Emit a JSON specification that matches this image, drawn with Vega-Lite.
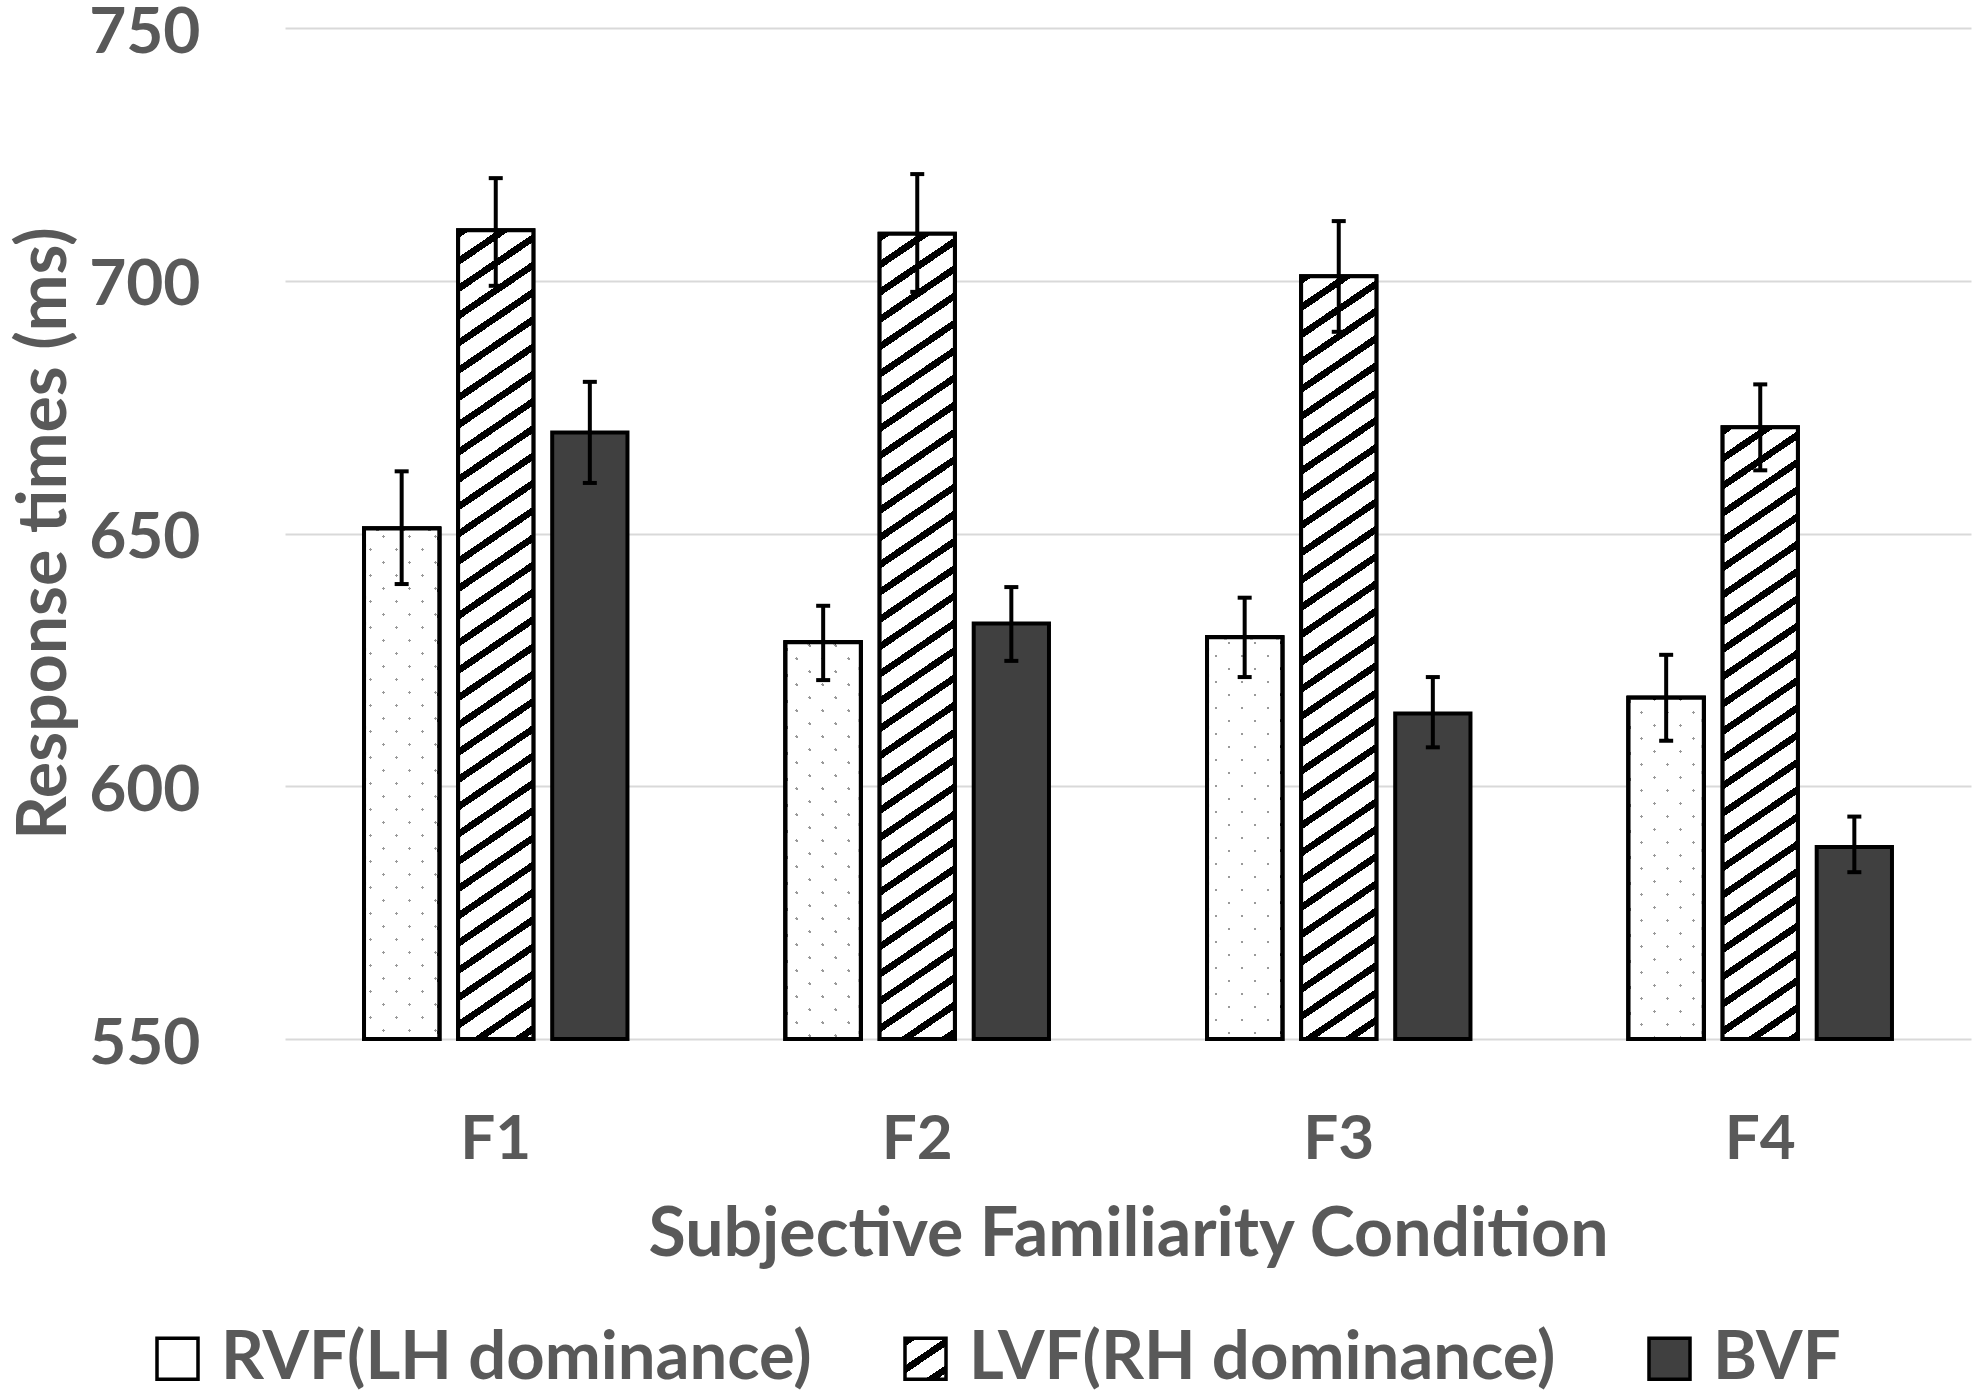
{
  "$schema": "https://vega.github.io/schema/vega-lite/v6.json",
  "width": 1686,
  "height": 1011,
  "autosize": {"type": "none"},
  "padding": {"left": 285, "top": 28, "right": 12, "bottom": 356},
  "background": "white",
  "params": [
    {
      "name": "hatch",
      "value": [
        {"offset": 0, "color": "#000"}, {"offset": 0.0091, "color": "#000"}, {"offset": 0.0091, "color": "#fff"}, {"offset": 0.0303, "color": "#fff"},
        {"offset": 0.0303, "color": "#000"}, {"offset": 0.0394, "color": "#000"}, {"offset": 0.0394, "color": "#fff"}, {"offset": 0.0606, "color": "#fff"},
        {"offset": 0.0606, "color": "#000"}, {"offset": 0.0697, "color": "#000"}, {"offset": 0.0697, "color": "#fff"}, {"offset": 0.0909, "color": "#fff"},
        {"offset": 0.0909, "color": "#000"}, {"offset": 0.1000, "color": "#000"}, {"offset": 0.1000, "color": "#fff"}, {"offset": 0.1212, "color": "#fff"},
        {"offset": 0.1212, "color": "#000"}, {"offset": 0.1303, "color": "#000"}, {"offset": 0.1303, "color": "#fff"}, {"offset": 0.1515, "color": "#fff"},
        {"offset": 0.1515, "color": "#000"}, {"offset": 0.1606, "color": "#000"}, {"offset": 0.1606, "color": "#fff"}, {"offset": 0.1818, "color": "#fff"},
        {"offset": 0.1818, "color": "#000"}, {"offset": 0.1909, "color": "#000"}, {"offset": 0.1909, "color": "#fff"}, {"offset": 0.2121, "color": "#fff"},
        {"offset": 0.2121, "color": "#000"}, {"offset": 0.2212, "color": "#000"}, {"offset": 0.2212, "color": "#fff"}, {"offset": 0.2424, "color": "#fff"},
        {"offset": 0.2424, "color": "#000"}, {"offset": 0.2515, "color": "#000"}, {"offset": 0.2515, "color": "#fff"}, {"offset": 0.2727, "color": "#fff"},
        {"offset": 0.2727, "color": "#000"}, {"offset": 0.2818, "color": "#000"}, {"offset": 0.2818, "color": "#fff"}, {"offset": 0.3030, "color": "#fff"},
        {"offset": 0.3030, "color": "#000"}, {"offset": 0.3121, "color": "#000"}, {"offset": 0.3121, "color": "#fff"}, {"offset": 0.3333, "color": "#fff"},
        {"offset": 0.3333, "color": "#000"}, {"offset": 0.3424, "color": "#000"}, {"offset": 0.3424, "color": "#fff"}, {"offset": 0.3636, "color": "#fff"},
        {"offset": 0.3636, "color": "#000"}, {"offset": 0.3727, "color": "#000"}, {"offset": 0.3727, "color": "#fff"}, {"offset": 0.3939, "color": "#fff"},
        {"offset": 0.3939, "color": "#000"}, {"offset": 0.4030, "color": "#000"}, {"offset": 0.4030, "color": "#fff"}, {"offset": 0.4242, "color": "#fff"},
        {"offset": 0.4242, "color": "#000"}, {"offset": 0.4333, "color": "#000"}, {"offset": 0.4333, "color": "#fff"}, {"offset": 0.4545, "color": "#fff"},
        {"offset": 0.4545, "color": "#000"}, {"offset": 0.4636, "color": "#000"}, {"offset": 0.4636, "color": "#fff"}, {"offset": 0.4848, "color": "#fff"},
        {"offset": 0.4848, "color": "#000"}, {"offset": 0.4939, "color": "#000"}, {"offset": 0.4939, "color": "#fff"}, {"offset": 0.5152, "color": "#fff"},
        {"offset": 0.5152, "color": "#000"}, {"offset": 0.5243, "color": "#000"}, {"offset": 0.5243, "color": "#fff"}, {"offset": 0.5455, "color": "#fff"},
        {"offset": 0.5455, "color": "#000"}, {"offset": 0.5546, "color": "#000"}, {"offset": 0.5546, "color": "#fff"}, {"offset": 0.5758, "color": "#fff"},
        {"offset": 0.5758, "color": "#000"}, {"offset": 0.5849, "color": "#000"}, {"offset": 0.5849, "color": "#fff"}, {"offset": 0.6061, "color": "#fff"},
        {"offset": 0.6061, "color": "#000"}, {"offset": 0.6152, "color": "#000"}, {"offset": 0.6152, "color": "#fff"}, {"offset": 0.6364, "color": "#fff"},
        {"offset": 0.6364, "color": "#000"}, {"offset": 0.6455, "color": "#000"}, {"offset": 0.6455, "color": "#fff"}, {"offset": 0.6667, "color": "#fff"},
        {"offset": 0.6667, "color": "#000"}, {"offset": 0.6758, "color": "#000"}, {"offset": 0.6758, "color": "#fff"}, {"offset": 0.6970, "color": "#fff"},
        {"offset": 0.6970, "color": "#000"}, {"offset": 0.7061, "color": "#000"}, {"offset": 0.7061, "color": "#fff"}, {"offset": 0.7273, "color": "#fff"},
        {"offset": 0.7273, "color": "#000"}, {"offset": 0.7364, "color": "#000"}, {"offset": 0.7364, "color": "#fff"}, {"offset": 0.7576, "color": "#fff"},
        {"offset": 0.7576, "color": "#000"}, {"offset": 0.7667, "color": "#000"}, {"offset": 0.7667, "color": "#fff"}, {"offset": 0.7879, "color": "#fff"},
        {"offset": 0.7879, "color": "#000"}, {"offset": 0.7970, "color": "#000"}, {"offset": 0.7970, "color": "#fff"}, {"offset": 0.8182, "color": "#fff"},
        {"offset": 0.8182, "color": "#000"}, {"offset": 0.8273, "color": "#000"}, {"offset": 0.8273, "color": "#fff"}, {"offset": 0.8485, "color": "#fff"},
        {"offset": 0.8485, "color": "#000"}, {"offset": 0.8576, "color": "#000"}, {"offset": 0.8576, "color": "#fff"}, {"offset": 0.8788, "color": "#fff"},
        {"offset": 0.8788, "color": "#000"}, {"offset": 0.8879, "color": "#000"}, {"offset": 0.8879, "color": "#fff"}, {"offset": 0.9091, "color": "#fff"},
        {"offset": 0.9091, "color": "#000"}, {"offset": 0.9182, "color": "#000"}, {"offset": 0.9182, "color": "#fff"}, {"offset": 0.9394, "color": "#fff"},
        {"offset": 0.9394, "color": "#000"}, {"offset": 0.9485, "color": "#000"}, {"offset": 0.9485, "color": "#fff"}, {"offset": 0.9697, "color": "#fff"},
        {"offset": 0.9697, "color": "#000"}, {"offset": 0.9788, "color": "#000"}, {"offset": 0.9788, "color": "#fff"}, {"offset": 1, "color": "#fff"}
      ]
    },
    {
      "name": "dotmask",
      "value": [
        {"offset": 0, "color": "rgba(255,255,255,0)"}, {"offset": 0.0054, "color": "rgba(255,255,255,0)"}, {"offset": 0.0054, "color": "#fff"}, {"offset": 0.0417, "color": "#fff"},
        {"offset": 0.0417, "color": "rgba(255,255,255,0)"}, {"offset": 0.0471, "color": "rgba(255,255,255,0)"}, {"offset": 0.0471, "color": "#fff"}, {"offset": 0.0833, "color": "#fff"},
        {"offset": 0.0833, "color": "rgba(255,255,255,0)"}, {"offset": 0.0887, "color": "rgba(255,255,255,0)"}, {"offset": 0.0887, "color": "#fff"}, {"offset": 0.1250, "color": "#fff"},
        {"offset": 0.1250, "color": "rgba(255,255,255,0)"}, {"offset": 0.1304, "color": "rgba(255,255,255,0)"}, {"offset": 0.1304, "color": "#fff"}, {"offset": 0.1667, "color": "#fff"},
        {"offset": 0.1667, "color": "rgba(255,255,255,0)"}, {"offset": 0.1721, "color": "rgba(255,255,255,0)"}, {"offset": 0.1721, "color": "#fff"}, {"offset": 0.2083, "color": "#fff"},
        {"offset": 0.2083, "color": "rgba(255,255,255,0)"}, {"offset": 0.2137, "color": "rgba(255,255,255,0)"}, {"offset": 0.2137, "color": "#fff"}, {"offset": 0.2500, "color": "#fff"},
        {"offset": 0.2500, "color": "rgba(255,255,255,0)"}, {"offset": 0.2554, "color": "rgba(255,255,255,0)"}, {"offset": 0.2554, "color": "#fff"}, {"offset": 0.2917, "color": "#fff"},
        {"offset": 0.2917, "color": "rgba(255,255,255,0)"}, {"offset": 0.2971, "color": "rgba(255,255,255,0)"}, {"offset": 0.2971, "color": "#fff"}, {"offset": 0.3333, "color": "#fff"},
        {"offset": 0.3333, "color": "rgba(255,255,255,0)"}, {"offset": 0.3387, "color": "rgba(255,255,255,0)"}, {"offset": 0.3387, "color": "#fff"}, {"offset": 0.3750, "color": "#fff"},
        {"offset": 0.3750, "color": "rgba(255,255,255,0)"}, {"offset": 0.3804, "color": "rgba(255,255,255,0)"}, {"offset": 0.3804, "color": "#fff"}, {"offset": 0.4167, "color": "#fff"},
        {"offset": 0.4167, "color": "rgba(255,255,255,0)"}, {"offset": 0.4221, "color": "rgba(255,255,255,0)"}, {"offset": 0.4221, "color": "#fff"}, {"offset": 0.4583, "color": "#fff"},
        {"offset": 0.4583, "color": "rgba(255,255,255,0)"}, {"offset": 0.4637, "color": "rgba(255,255,255,0)"}, {"offset": 0.4637, "color": "#fff"}, {"offset": 0.5000, "color": "#fff"},
        {"offset": 0.5000, "color": "rgba(255,255,255,0)"}, {"offset": 0.5054, "color": "rgba(255,255,255,0)"}, {"offset": 0.5054, "color": "#fff"}, {"offset": 0.5417, "color": "#fff"},
        {"offset": 0.5417, "color": "rgba(255,255,255,0)"}, {"offset": 0.5471, "color": "rgba(255,255,255,0)"}, {"offset": 0.5471, "color": "#fff"}, {"offset": 0.5833, "color": "#fff"},
        {"offset": 0.5833, "color": "rgba(255,255,255,0)"}, {"offset": 0.5887, "color": "rgba(255,255,255,0)"}, {"offset": 0.5887, "color": "#fff"}, {"offset": 0.6250, "color": "#fff"},
        {"offset": 0.6250, "color": "rgba(255,255,255,0)"}, {"offset": 0.6304, "color": "rgba(255,255,255,0)"}, {"offset": 0.6304, "color": "#fff"}, {"offset": 0.6667, "color": "#fff"},
        {"offset": 0.6667, "color": "rgba(255,255,255,0)"}, {"offset": 0.6721, "color": "rgba(255,255,255,0)"}, {"offset": 0.6721, "color": "#fff"}, {"offset": 0.7083, "color": "#fff"},
        {"offset": 0.7083, "color": "rgba(255,255,255,0)"}, {"offset": 0.7137, "color": "rgba(255,255,255,0)"}, {"offset": 0.7137, "color": "#fff"}, {"offset": 0.7500, "color": "#fff"},
        {"offset": 0.7500, "color": "rgba(255,255,255,0)"}, {"offset": 0.7554, "color": "rgba(255,255,255,0)"}, {"offset": 0.7554, "color": "#fff"}, {"offset": 0.7917, "color": "#fff"},
        {"offset": 0.7917, "color": "rgba(255,255,255,0)"}, {"offset": 0.7971, "color": "rgba(255,255,255,0)"}, {"offset": 0.7971, "color": "#fff"}, {"offset": 0.8333, "color": "#fff"},
        {"offset": 0.8333, "color": "rgba(255,255,255,0)"}, {"offset": 0.8387, "color": "rgba(255,255,255,0)"}, {"offset": 0.8387, "color": "#fff"}, {"offset": 0.8750, "color": "#fff"},
        {"offset": 0.8750, "color": "rgba(255,255,255,0)"}, {"offset": 0.8804, "color": "rgba(255,255,255,0)"}, {"offset": 0.8804, "color": "#fff"}, {"offset": 0.9167, "color": "#fff"},
        {"offset": 0.9167, "color": "rgba(255,255,255,0)"}, {"offset": 0.9221, "color": "rgba(255,255,255,0)"}, {"offset": 0.9221, "color": "#fff"}, {"offset": 0.9583, "color": "#fff"},
        {"offset": 0.9583, "color": "rgba(255,255,255,0)"}, {"offset": 0.9637, "color": "rgba(255,255,255,0)"}, {"offset": 0.9637, "color": "#fff"}, {"offset": 1, "color": "#fff"}
      ]
    }
  ],
  "data": {
    "values": [
      {"cond": "F1", "series": "RVF(LH dominance)", "rt": 651, "lo": 640, "hi": 662.3},
      {"cond": "F1", "series": "LVF(RH dominance)", "rt": 710, "lo": 699, "hi": 720.3},
      {"cond": "F1", "series": "BVF", "rt": 670, "lo": 660, "hi": 680},
      {"cond": "F2", "series": "RVF(LH dominance)", "rt": 628.5, "lo": 621, "hi": 635.7},
      {"cond": "F2", "series": "LVF(RH dominance)", "rt": 709.3, "lo": 697.8, "hi": 721.1},
      {"cond": "F2", "series": "BVF", "rt": 632.2, "lo": 624.8, "hi": 639.4},
      {"cond": "F3", "series": "RVF(LH dominance)", "rt": 629.5, "lo": 621.6, "hi": 637.3},
      {"cond": "F3", "series": "LVF(RH dominance)", "rt": 700.9, "lo": 689.9, "hi": 711.8},
      {"cond": "F3", "series": "BVF", "rt": 614.4, "lo": 607.7, "hi": 621.6},
      {"cond": "F4", "series": "RVF(LH dominance)", "rt": 617.5, "lo": 609, "hi": 626},
      {"cond": "F4", "series": "LVF(RH dominance)", "rt": 671, "lo": 662.5, "hi": 679.5},
      {"cond": "F4", "series": "BVF", "rt": 588, "lo": 583, "hi": 594}
    ]
  },
  "encoding": {
    "x": {
      "field": "cond",
      "type": "nominal",
      "title": "Subjective Familiarity Condition",
      "scale": {"paddingInner": 0.375, "paddingOuter": 0.1875},
      "axis": {
        "domain": false,
        "ticks": false,
        "tickSize": 0,
        "labelAngle": 0,
        "labelPadding": 100,
        "labelBaseline": "middle",
        "labelFontSize": 62,
        "titleY": 196,
        "titleBaseline": "middle",
        "titleFontSize": 68
      }
    },
    "xOffset": {
      "field": "series",
      "type": "nominal",
      "sort": ["RVF(LH dominance)", "LVF(RH dominance)", "BVF"],
      "scale": {"paddingInner": 0.2, "paddingOuter": 0}
    }
  },
  "layer": [
    {
      "mark": {"type": "bar", "stroke": "black", "strokeWidth": 4},
      "encoding": {
        "y": {
          "field": "rt",
          "type": "quantitative",
          "title": "Response times (ms)",
          "scale": {"domain": [550, 750], "zero": false, "nice": false},
          "axis": {
            "values": [550, 600, 650, 700, 750],
            "grid": true,
            "gridColor": "#d9d9d9",
            "gridWidth": 2,
            "domain": false,
            "ticks": false,
            "tickSize": 0,
            "labelPadding": 85,
            "labelFontSize": 64,
            "labelOffset": 5,
            "labelFlush": false,
            "labelOverlap": false,
            "titleFontSize": 68,
            "titleX": -240,
            "titleY": 505,
            "titleAngle": 270,
            "titleAlign": "center",
            "titleBaseline": "middle"
          }
        },
        "y2": {"datum": 550},
        "fill": {
          "field": "series",
          "type": "nominal",
          "sort": ["RVF(LH dominance)", "LVF(RH dominance)", "BVF"],
          "scale": {
            "domain": ["RVF(LH dominance)", "LVF(RH dominance)", "BVF"],
            "range": [
              "#ffffff",
              {"expr": "{gradient: 'linear', x1: 0, y1: 0, x2: 10.21, y2: 15.01, stops: hatch}"},
              "#404040"
            ]
          },
          "legend": {
            "orient": "none",
            "legendX": -141,
            "legendY": 1297,
            "direction": "horizontal",
            "title": null,
            "symbolType": "square",
            "symbolSize": 1681,
            "symbolStrokeColor": "black",
            "symbolStrokeWidth": 3.5,
            "symbolOpacity": 1,
            "labelOffset": 10,
            "columnPadding": 80,
            "labelLimit": 1000,
            "labelFontSize": 67
          }
        }
      }
    },
    {
      "transform": [{"filter": "datum.series === 'RVF(LH dominance)'"}],
      "mark": {"type": "bar", "fill": "#999999", "stroke": "black", "strokeWidth": 4},
      "encoding": {
        "y": {"field": "rt", "type": "quantitative", "title": "Response times (ms)"},
        "y2": {"datum": 550}
      }
    },
    {
      "transform": [{"filter": "datum.series === 'RVF(LH dominance)'"}],
      "mark": {
        "type": "bar",
        "stroke": "black",
        "strokeWidth": 4,
        "fill": {"expr": "{gradient: 'linear', x1: 0, y1: 0, x2: 46968 / (5665.6 + pow((datum.rt - 550) * 5.055, 2)), y2: 624 * (datum.rt - 550) * 5.055 / (5665.6 + pow((datum.rt - 550) * 5.055, 2)), stops: dotmask}"}
      },
      "encoding": {
        "y": {"field": "rt", "type": "quantitative", "title": "Response times (ms)"},
        "y2": {"datum": 550}
      }
    },
    {
      "transform": [{"filter": "datum.series === 'RVF(LH dominance)'"}],
      "mark": {
        "type": "bar",
        "stroke": "black",
        "strokeWidth": 4,
        "fill": {"expr": "{gradient: 'linear', x1: 0, y1: 1, x2: 46968 / (5665.6 + pow((datum.rt - 550) * 5.055, 2)), y2: 1 - 624 * (datum.rt - 550) * 5.055 / (5665.6 + pow((datum.rt - 550) * 5.055, 2)), stops: dotmask}"}
      },
      "encoding": {
        "y": {"field": "rt", "type": "quantitative", "title": "Response times (ms)"},
        "y2": {"datum": 550}
      }
    },
    {
      "transform": [{"filter": "datum.series === 'LVF(RH dominance)'"}],
      "mark": {
        "type": "bar",
        "stroke": "black",
        "strokeWidth": 4,
        "fill": {"expr": "{gradient: 'linear', x1: 0, y1: 0, x2: 46065 / (2619.7 + pow((datum.rt - 550) * 5.055, 2)), y2: 900 * (datum.rt - 550) * 5.055 / (2619.7 + pow((datum.rt - 550) * 5.055, 2)), stops: hatch}"}
      },
      "encoding": {
        "y": {"field": "rt", "type": "quantitative", "title": "Response times (ms)"},
        "y2": {"datum": 550}
      }
    },
    {
      "mark": {"type": "rule", "color": "black", "strokeWidth": 4},
      "encoding": {
        "y": {"field": "lo", "type": "quantitative", "title": "Response times (ms)"},
        "y2": {"field": "hi"}
      }
    },
    {
      "mark": {"type": "tick", "color": "black", "thickness": 4, "size": 14, "opacity": 1},
      "encoding": {
        "y": {"field": "hi", "type": "quantitative", "title": "Response times (ms)"}
      }
    },
    {
      "mark": {"type": "tick", "color": "black", "thickness": 4, "size": 14, "opacity": 1},
      "encoding": {
        "y": {"field": "lo", "type": "quantitative", "title": "Response times (ms)"}
      }
    }
  ],
  "config": {
    "view": {"stroke": null},
    "font": "Lato",
    "axis": {
      "labelFont": "Lato",
      "labelFontWeight": "bold",
      "labelColor": "#595959",
      "titleFont": "Lato",
      "titleFontWeight": "bold",
      "titleColor": "#595959"
    },
    "legend": {
      "labelFont": "Lato",
      "labelFontWeight": "bold",
      "labelColor": "#595959"
    }
  }
}
